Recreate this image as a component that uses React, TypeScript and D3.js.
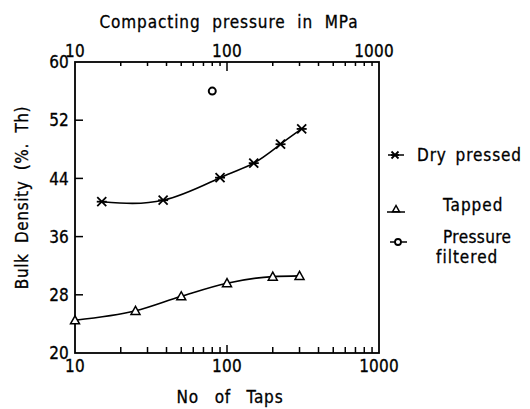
import React from "react";
import * as d3 from "d3";

const dryPressedX = [15, 38, 90, 150, 225, 310];
const dryPressedY = [40.8, 41.0, 44.1, 46.1, 48.7, 50.8];
const tappedX = [10, 25, 50, 100, 200, 300];
const tappedY = [24.5, 25.8, 27.8, 29.6, 30.5, 30.6];
const filteredX = [80];
const filteredY = [56];
const yTicks = [20, 28, 36, 44, 52, 60];
const xMajor = [10, 100, 1000];
const xMinor = [20, 30, 40, 50, 60, 70, 80, 90, 200, 300, 400, 500, 600, 700, 800, 900];

const W = 530;
const H = 409;
const L = 75, R = 379, T = 62, B = 353;
const FONT = "'DejaVu Sans Condensed', 'DejaVu Sans', sans-serif";

function Asterisk({ x, y, s = 4.5 }: { x: number; y: number; s?: number }) {
  return (
    <g stroke="#000" strokeWidth={1.8} fill="none">
      <line x1={x - s} y1={y - s} x2={x + s} y2={y + s} />
      <line x1={x - s} y1={y + s} x2={x + s} y2={y - s} />
      <line x1={x - s - 0.5} y1={y} x2={x + s + 0.5} y2={y} />
    </g>
  );
}

function Tri({ x, y, s = 4.5 }: { x: number; y: number; s?: number }) {
  const p = `${x},${y - s} ${x - s},${y + s * 0.8} ${x + s},${y + s * 0.8}`;
  return <polygon points={p} fill="#fff" stroke="#000" strokeWidth={1.5} />;
}

export default function App() {
  const x = d3.scaleLog().domain([10, 1000]).range([L, R]);
  const y = d3.scaleLinear().domain([20, 60]).range([B, T]);

  const dry = dryPressedX.map((v, i) => [x(v), y(dryPressedY[i])] as [number, number]);
  const tap = tappedX.map((v, i) => [x(v), y(tappedY[i])] as [number, number]);
  const dryLine = d3.line().curve(d3.curveNatural)(dry) || "";
  const tapLine = d3.line().curve(d3.curveMonotoneX)(tap) || "";

  const textStyle: React.CSSProperties = {
    fontFamily: FONT,
    fontSize: 17,
    letterSpacing: 0.2,
    stroke: "#000",
    strokeWidth: 0.3,
  };

  return (
    <svg width={W} height={H} style={{ position: "absolute", left: 0, top: 0, background: "#fff" }}>
      <rect x={0} y={0} width={W} height={H} fill="#fff" />
      {/* frame */}
      <rect x={L} y={T} width={R - L} height={B - T} fill="none" stroke="#000" strokeWidth={1.8} />
      {/* bottom ticks */}
      {xMinor.map((v) => (
        <line key={"b" + v} x1={x(v)} x2={x(v)} y1={B} y2={B - 6} stroke="#000" strokeWidth={1.5} />
      ))}
      <line x1={x(100)} x2={x(100)} y1={B} y2={B - 8} stroke="#000" strokeWidth={1.5} />
      {/* top ticks */}
      {xMinor.map((v) => (
        <line key={"t" + v} x1={x(v)} x2={x(v)} y1={T} y2={T + 4} stroke="#000" strokeWidth={1.5} />
      ))}
      <line x1={x(100)} x2={x(100)} y1={T} y2={T + 9} stroke="#000" strokeWidth={1.5} />
      {/* y ticks */}
      {yTicks.slice(1, -1).map((v) => (
        <line key={"y" + v} x1={L} x2={L + 8} y1={y(v)} y2={y(v)} stroke="#000" strokeWidth={1.5} />
      ))}
      {/* y tick labels */}
      {yTicks.map((v) => (
        <text key={"yl" + v} x={L - 6} y={y(v)} dy="0.36em" textAnchor="end" style={textStyle}>
          {v}
        </text>
      ))}
      {/* bottom labels */}
      {xMajor.map((v) => (
        <text key={"bl" + v} x={x(v)} y={B + 19} textAnchor="middle" style={textStyle}>
          {v}
        </text>
      ))}
      {/* top labels */}
      {xMajor.map((v) => (
        <text key={"tl" + v} x={x(v) - (v === 1000 ? 5 : 0)} y={T - 5} textAnchor="middle" style={textStyle}>
          {v}
        </text>
      ))}
      <text x={229} y={28} textAnchor="middle" style={{ ...textStyle, letterSpacing: 0.9, wordSpacing: 6 }}>
        Compacting pressure in MPa
      </text>
      <text x={230} y={403} textAnchor="middle" style={{ ...textStyle, letterSpacing: 0.8, wordSpacing: 10 }}>
        No of Taps
      </text>
      <text
        transform={`translate(28,${(T + B) / 2 - 10}) rotate(-90)`}
        textAnchor="middle"
        style={{ ...textStyle, letterSpacing: 0.6, wordSpacing: 5 }}
      >
        Bulk Density (%. Th)
      </text>
      {/* lines */}
      <path d={dryLine} fill="none" stroke="#000" strokeWidth={1.6} />
      <path d={tapLine} fill="none" stroke="#000" strokeWidth={1.6} />
      {dry.map(([px, py], i) => (
        <Asterisk key={"d" + i} x={px} y={py} />
      ))}
      {tap.map(([px, py], i) => (
        <Tri key={"tp" + i} x={px} y={py} />
      ))}
      {filteredX.map((v, i) => (
        <circle key={"f" + i} cx={x(v)} cy={y(filteredY[i])} r={3.5} fill="#fff" stroke="#000" strokeWidth={2} />
      ))}
      {/* legend */}
      <line x1={388} x2={404} y1={155} y2={155} stroke="#000" strokeWidth={1.5} />
      <Asterisk x={395} y={155} s={3.5} />
      <text x={417} y={161} style={{ ...textStyle, letterSpacing: 0.9, wordSpacing: 3 }}>
        Dry pressed
      </text>
      <line x1={387} x2={405} y1={212} y2={212} stroke="#000" strokeWidth={1.5} />
      <Tri x={396} y={209} s={3.5} />
      <text x={443} y={211} style={{ ...textStyle, letterSpacing: 1 }}>
        Tapped
      </text>
      <line x1={390} x2={407} y1={242} y2={242} stroke="#000" strokeWidth={1.5} />
      <circle cx={398} cy={242} r={3} fill="#fff" stroke="#000" strokeWidth={1.8} />
      <text x={443} y={243} style={{ ...textStyle, letterSpacing: 0.4 }}>
        Pressure
      </text>
      <text x={436} y={263} style={{ ...textStyle, letterSpacing: 1 }}>
        filtered
      </text>
    </svg>
  );
}
